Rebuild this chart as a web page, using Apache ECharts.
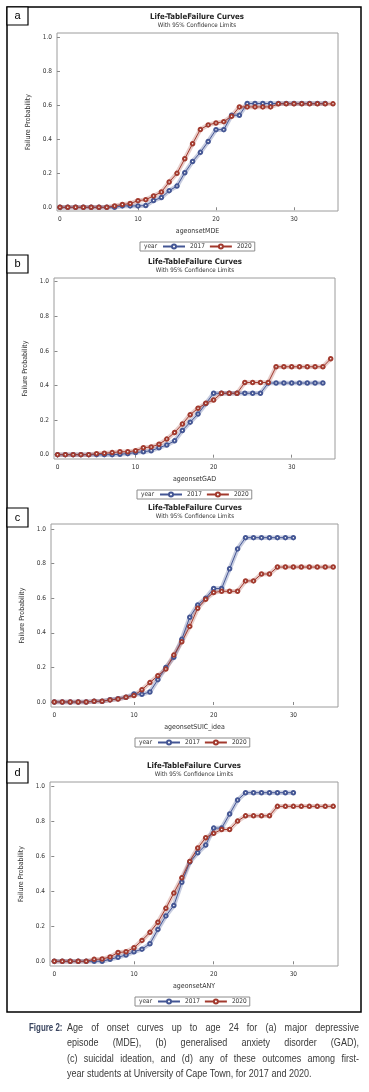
<!DOCTYPE html>
<html>
<head>
<meta charset="utf-8">
<script src="https://cdn.jsdelivr.net/npm/echarts@6/dist/echarts.min.js"></script>
<style>
  html, body { margin: 0; padding: 0; background: #fff; }
  #chart { position: absolute; left: 0; top: 0; width: 369px; height: 1092px; }
  .cap { position: absolute; top: 1020px; transform-origin: 0 0;
    font-family: "Liberation Sans", Arial, sans-serif; font-size: 11px; line-height: 15.3px; }
  #figlab { left: 29px; transform: scaleX(0.72); font-weight: bold; color: #3b4660; white-space: nowrap; }
  #captext { left: 67px; width: 356px; transform: scaleX(0.82); color: #3a3a3a; }
  #captext div { white-space: nowrap; }
  #captext .j { text-align: justify; text-align-last: justify; }
</style>
</head>
<body>
<div id="chart"></div>
<div id="figlab" class="cap">Figure 2:</div>
<div id="captext" class="cap">
  <div class="j">Age of onset curves up to age 24 for (a) major depressive</div>
  <div class="j">episode (MDE), (b) generalised anxiety disorder (GAD),</div>
  <div class="j">(c) suicidal ideation, and (d) any of these outcomes among first-</div>
  <div>year students at University of Cape Town, for 2017 and 2020.</div>
</div>
<script>
// failure probability by age of onset (index = age)
var mde2017 = [0, 0, 0, 0, 0, 0, 0, 0, 0.008, 0.008, 0.008, 0.01, 0.04, 0.057, 0.098, 0.125, 0.204, 0.27, 0.324, 0.388,
  0.458, 0.458, 0.543, 0.543, 0.612, 0.612, 0.612, 0.612, 0.612, 0.612, 0.612, 0.612, 0.612, 0.612, 0.612];
var mde2020 = [0, 0, 0, 0, 0, 0, 0, 0.008, 0.016, 0.022, 0.039, 0.045, 0.067, 0.09, 0.149, 0.2, 0.286, 0.375, 0.459, 0.486,
  0.497, 0.505, 0.537, 0.592, 0.592, 0.592, 0.592, 0.592, 0.61, 0.61, 0.61, 0.61, 0.61, 0.61, 0.61, 0.61];
var gad2017 = [0, 0, 0, 0, 0, 0, 0, 0, 0.002, 0.006, 0.012, 0.017, 0.023, 0.04, 0.056, 0.08, 0.14, 0.188, 0.235, 0.295,
  0.355, 0.355, 0.355, 0.355, 0.355, 0.355, 0.355, 0.414, 0.414, 0.414, 0.414, 0.414, 0.414, 0.414, 0.414];
var gad2020 = [0, 0, 0, 0, 0, 0.006, 0.008, 0.012, 0.017, 0.017, 0.023, 0.04, 0.045, 0.06, 0.09, 0.128, 0.177, 0.231, 0.268, 0.297,
  0.316, 0.355, 0.355, 0.355, 0.417, 0.417, 0.417, 0.417, 0.508, 0.508, 0.508, 0.508, 0.508, 0.508, 0.508, 0.554];
var suic2017 = [0, 0, 0, 0, 0, 0.004, 0.004, 0.013, 0.019, 0.027, 0.046, 0.044, 0.058, 0.129, 0.2, 0.258, 0.362, 0.49, 0.561, 0.6,
  0.656, 0.656, 0.77, 0.885, 0.95, 0.95, 0.95, 0.95, 0.95, 0.95, 0.95];
var suic2020 = [0, 0, 0, 0, 0, 0.004, 0.004, 0.012, 0.017, 0.027, 0.037, 0.071, 0.112, 0.152, 0.19, 0.271, 0.348, 0.437, 0.542, 0.594,
  0.633, 0.64, 0.64, 0.64, 0.7, 0.7, 0.74, 0.74, 0.78, 0.78, 0.78, 0.78, 0.78, 0.78, 0.78, 0.78];
var any2017 = [0, 0, 0, 0, 0, 0, 0, 0.011, 0.023, 0.036, 0.054, 0.069, 0.1, 0.182, 0.259, 0.318, 0.451, 0.566, 0.619, 0.663,
  0.76, 0.76, 0.84, 0.92, 0.962, 0.962, 0.962, 0.962, 0.962, 0.962, 0.962];
var any2020 = [0, 0, 0, 0, 0, 0.011, 0.013, 0.025, 0.05, 0.054, 0.077, 0.119, 0.165, 0.223, 0.302, 0.389, 0.476, 0.57, 0.646, 0.705,
  0.73, 0.752, 0.752, 0.8, 0.83, 0.83, 0.83, 0.83, 0.884, 0.884, 0.884, 0.884, 0.884, 0.884, 0.884, 0.884];

var years = ['2017', '2020'];
var xTicks = [0, 10, 20, 30];
var yTicks = [0, 0.2, 0.4, 0.6, 0.8, 1.0];
var panelLetters = ['a', 'b', 'c', 'd'];
var xNames = ['ageonsetMDE', 'ageonsetGAD', 'ageonsetSUIC_idea', 'ageonsetANY'];
var panelData = [[mde2017, mde2020], [gad2017, gad2020], [suic2017, suic2020], [any2017, any2020]];

var FONT = '"Liberation Sans Narrow", "Arial Narrow", "DejaVu Sans Condensed", sans-serif';
var BLUE = '#445694';
var RED = '#A23A2E';
var BANDS = ['rgba(68,86,148,0.3)', 'rgba(162,58,46,0.25)'];

// layout of each panel (pixels)
var layout = [
  { grid: [57, 33, 281, 178], x: [-0.38, 35.64], y: [-0.022, 1.028], title: [197, 17], box: [7, 7, 21, 18], legend: [140, 242] },
  { grid: [54, 278, 281, 181], x: [-0.45, 35.55], y: [-0.025, 1.021], title: [195, 262], box: [7, 255, 21, 18], legend: [137, 490] },
  { grid: [51, 524, 287, 183], x: [-0.41, 35.6], y: [-0.029, 1.029], title: [195, 508], box: [7, 508, 21, 19], legend: [135, 738] },
  { grid: [50, 782, 288, 184], x: [-0.54, 35.6], y: [-0.027, 1.023], title: [194, 766], box: [7, 762, 21, 21], legend: [135, 997] }
];

var chart = echarts.init(document.getElementById('chart'), null, { renderer: 'canvas' });

var grids = [], xAxes = [], yAxes = [], legends = [], series = [];
var graphics = [{
  type: 'rect', shape: { x: 7, y: 7, width: 354, height: 1005 },
  style: { fill: 'none', stroke: '#000', lineWidth: 1.5 }, z: 100
}];

layout.forEach(function (L, i) {
  grids.push({
    left: L.grid[0], top: L.grid[1], width: L.grid[2], height: L.grid[3],
    show: true, borderColor: '#9c9c9c', borderWidth: 1, backgroundColor: '#fff'
  });
  xAxes.push({
    type: 'value', gridIndex: i, min: L.x[0], max: L.x[1],
    name: xNames[i], nameLocation: 'middle', nameGap: 17,
    nameTextStyle: { fontFamily: FONT, fontSize: 7, color: '#333' },
    axisLine: { show: false },
    axisTick: { show: true, length: 3, customValues: xTicks, lineStyle: { color: '#888' } },
    axisLabel: { customValues: xTicks, fontFamily: FONT, fontSize: 6.5, color: '#333', margin: 5 },
    splitLine: { show: false }
  });
  yAxes.push({
    type: 'value', gridIndex: i, min: L.y[0], max: L.y[1],
    name: 'Failure Probability', nameLocation: 'middle', nameGap: 24, nameRotate: 90,
    nameTextStyle: { fontFamily: FONT, fontSize: 7, color: '#333' },
    axisLine: { show: false },
    axisTick: { show: true, length: 3, customValues: yTicks, lineStyle: { color: '#888' } },
    axisLabel: {
      customValues: yTicks, fontFamily: FONT, fontSize: 6.5, color: '#333', margin: 5,
      formatter: function (v) { return v.toFixed(1); }
    },
    splitLine: { show: false }
  });
  legends.push({
    left: L.legend[0], top: L.legend[1], data: years, selectedMode: false,
    itemWidth: 22, itemHeight: 5, itemGap: 4,
    padding: [1, 3, 1, 22], borderColor: '#8c8c8c', borderWidth: 1,
    textStyle: { fontFamily: FONT, fontSize: 6.5, color: '#333' }
  });

  var pair = panelData[i];
  [0, 1].forEach(function (k) {
    var pts = pair[k].map(function (v, age) { return [age, v]; });
    // 95% confidence band drawn as a light wide stroke under the curve
    series.push({
      type: 'line', name: years[k] + ' CL', xAxisIndex: i, yAxisIndex: i, data: pts,
      symbol: 'none', silent: true, z: 1,
      lineStyle: { width: 4.5, color: BANDS[k], cap: 'round', join: 'round' }
    });
  });
  [0, 1].forEach(function (k) {
    var pts = pair[k].map(function (v, age) { return [age, v]; });
    series.push({
      type: 'line', name: years[k], xAxisIndex: i, yAxisIndex: i, data: pts,
      symbol: 'emptyCircle', symbolSize: 3.5, z: 3,
      lineStyle: { width: 1, color: k ? RED : BLUE },
      itemStyle: { color: k ? RED : BLUE, borderWidth: 0.8 },
      emphasis: { disabled: true }
    });
  });

  // titles
  graphics.push({
    type: 'text', x: L.title[0], y: L.title[1],
    style: { text: 'Life-TableFailure Curves', font: 'bold 7.8px ' + FONT, fill: '#222', textAlign: 'center', textVerticalAlign: 'middle' }
  });
  graphics.push({
    type: 'text', x: L.title[0], y: L.title[1] + 8.5,
    style: { text: 'With 95% Confidence Limits', font: '6.2px ' + FONT, fill: '#333', textAlign: 'center', textVerticalAlign: 'middle' }
  });
  // panel letter box
  graphics.push({
    type: 'rect', shape: { x: L.box[0], y: L.box[1], width: L.box[2], height: L.box[3] },
    style: { fill: '#fff', stroke: '#000', lineWidth: 1.2 }, z: 101
  });
  graphics.push({
    type: 'text', x: L.box[0] + L.box[2] / 2, y: L.box[1] + L.box[3] / 2, z: 102,
    style: { text: panelLetters[i], font: '11px "Liberation Sans", Arial, sans-serif', fill: '#000', textAlign: 'center', textVerticalAlign: 'middle' }
  });
  // legend caption
  graphics.push({
    type: 'text', x: L.legend[0] + 4, y: L.legend[1] + 4.5, z: 50,
    style: { text: 'year', font: '6.5px ' + FONT, fill: '#333', textVerticalAlign: 'middle' }
  });
});

var option = {
  backgroundColor: '#fff',
  animation: false,
  grid: grids,
  xAxis: xAxes,
  yAxis: yAxes,
  legend: legends,
  series: series,
  graphic: graphics
};
chart.setOption(option);
</script>
</body>
</html>
